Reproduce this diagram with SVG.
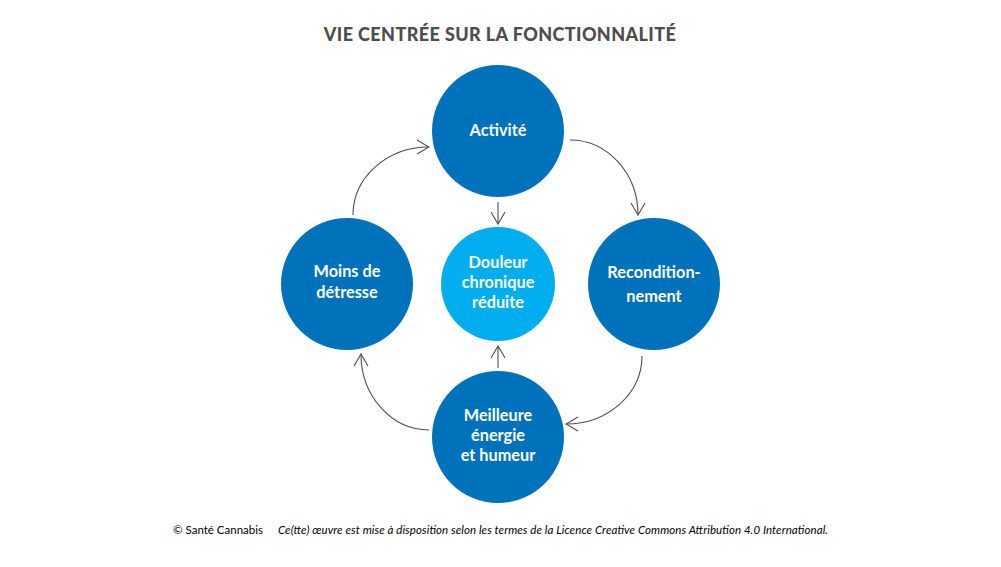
<svg xmlns="http://www.w3.org/2000/svg" width="1001" height="567" viewBox="0 0 1001 567">
<style>
.node{fill:#0072bc}
.center{fill:#00aeef}
.lbl{font-family:Lato,"Liberation Sans",sans-serif;font-weight:bold;font-size:16.3px;fill:#fff;text-anchor:middle}
.conn{fill:none;stroke:#4d4d4d;stroke-width:1.1}
.title{font-family:Lato,"Liberation Sans",sans-serif;font-weight:900;font-size:18px;fill:#4d4d4d;text-anchor:middle;letter-spacing:0.4px}
.foot{font-family:Lato,"Liberation Sans",sans-serif;font-size:11.5px;fill:#000}
</style>
<defs>
<marker id="ah" viewBox="0 0 14 16" refX="13" refY="8" markerWidth="14" markerHeight="16" markerUnits="userSpaceOnUse" orient="auto">
<path d="M1,1 L13,8 L1,15" fill="none" stroke="#4d4d4d" stroke-width="1.1"/>
</marker>
</defs>
<rect width="1001" height="567" fill="#fff"/>
<text class="title" x="500" y="41">VIE CENTRÉE SUR LA FONCTIONNALITÉ</text>
<g id="connectors">
<path class="conn" d="M353,215 A76,68 0 0 1 429,147" marker-end="url(#ah)"/>
<path class="conn" d="M570,140 A68,75 0 0 1 638,215" marker-end="url(#ah)"/>
<path class="conn" d="M642,356 A76,68 0 0 1 566,424" marker-end="url(#ah)"/>
<path class="conn" d="M429,430 A68,76 0 0 1 361,354" marker-end="url(#ah)"/>
<path class="conn" d="M498,202 L498,224" marker-end="url(#ah)"/>
<path class="conn" d="M498,368 L498,346" marker-end="url(#ah)"/>
</g>
<g id="activite">
<circle class="node" cx="498" cy="131" r="66"/>
<text class="lbl" x="498" y="136">Activité</text>
</g>
<g id="moins">
<circle class="node" cx="347" cy="284" r="66"/>
<text class="lbl" x="347" y="277">Moins de</text>
<text class="lbl" x="347" y="298">détresse</text>
</g>
<g id="recond">
<circle class="node" cx="654" cy="284" r="66"/>
<text class="lbl" x="654" y="278">Recondition-</text>
<text class="lbl" x="654" y="302">nement</text>
</g>
<g id="meilleure">
<circle class="node" cx="498" cy="437" r="66"/>
<text class="lbl" x="498" y="421">Meilleure</text>
<text class="lbl" x="498" y="441">énergie</text>
<text class="lbl" x="498" y="461">et humeur</text>
</g>
<g id="douleur">
<circle class="center" cx="498" cy="284" r="57"/>
<text class="lbl" x="498" y="268">Douleur</text>
<text class="lbl" x="498" y="288">chronique</text>
<text class="lbl" x="498" y="308">réduite</text>
</g>
<text class="foot" x="173" y="534">© Santé Cannabis</text>
<text class="foot" x="278" y="534" font-style="italic" font-size="10.5" textLength="550">Ce(tte) œuvre est mise à disposition selon les termes de la Licence Creative Commons Attribution 4.0 International.</text>
</svg>
